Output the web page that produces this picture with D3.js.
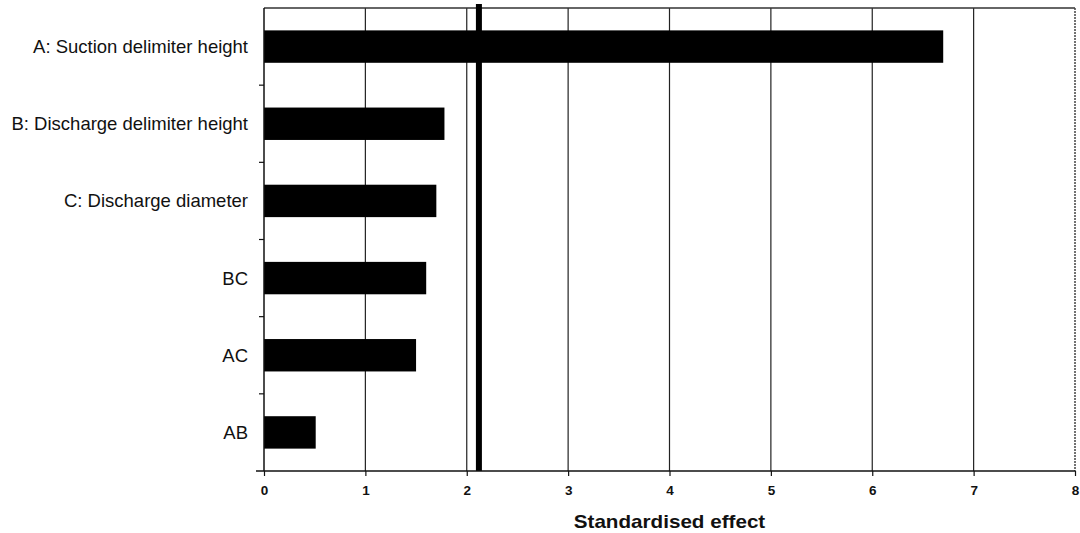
<!DOCTYPE html>
<html>
<head>
<meta charset="utf-8">
<script src="https://cdn.jsdelivr.net/npm/d3@7"></script>
<style>
  body { margin: 0; background: #fff; }
  svg { display: block; }
</style>
</head>
<body>
<svg id="chart" width="1080" height="533"></svg>
<script>
/* dados */
var fatores = ["A: Suction delimiter height", "B: Discharge delimiter height", "C: Discharge diameter", "BC", "AC", "AB"];
var efeitos = [6.70, 1.78, 1.70, 1.60, 1.50, 0.51];
var ticks_x = [0, 1, 2, 3, 4, 5, 6, 7, 8];
var limite = 2.12;

var svg = d3.select("#chart");
var margem = {top: 8, right: 5, bottom: 62, left: 264};
var largura = 1080 - margem.left - margem.right;
var altura = 533 - margem.top - margem.bottom;

var g = svg.append("g").attr("transform", "translate(" + margem.left + "," + margem.top + ")");

var x = d3.scaleLinear().domain([0, 8]).range([0, largura]);
var y = d3.scaleBand().domain(fatores).range([0, altura]).paddingInner(0.58).paddingOuter(0.29);
var yTicks = d3.scaleLinear().domain([0, fatores.length]).range([0, altura]);

/* grade vertical */
g.selectAll("line.grade").data(ticks_x.slice(1, -1)).enter().append("line")
  .attr("class", "grade")
  .attr("x1", function(d){ return x(d); }).attr("x2", function(d){ return x(d); })
  .attr("y1", 0).attr("y2", altura)
  .attr("stroke", "#222").attr("stroke-width", 1.2);

/* borda */
g.append("line").attr("x1", 0).attr("x2", largura).attr("y1", 0).attr("y2", 0)
  .attr("stroke", "#333").attr("stroke-width", 1.5);
g.append("line").attr("x1", largura).attr("x2", largura).attr("y1", 0).attr("y2", altura)
  .attr("stroke", "#444").attr("stroke-width", 1.5).attr("stroke-dasharray", "2,1");

/* barras */
g.selectAll("rect.barra").data(efeitos).enter().append("rect")
  .attr("class", "barra")
  .attr("x", x(0))
  .attr("y", function(d, i){ return y(fatores[i]); })
  .attr("width", function(d){ return x(d) - x(0); })
  .attr("height", y.bandwidth())
  .attr("fill", "#000");

/* linha de referencia */
g.append("line")
  .attr("x1", x(limite)).attr("x2", x(limite))
  .attr("y1", -4).attr("y2", altura)
  .attr("stroke", "#000").attr("stroke-width", 6);

/* eixo x */
var eixoX = d3.axisBottom(x).tickValues(ticks_x).tickSize(5).tickPadding(9).tickFormat(d3.format("d"));
var gx = g.append("g").attr("transform", "translate(0," + altura + ")").call(eixoX);
gx.select(".domain").attr("stroke", "#111").attr("stroke-width", 1.5).attr("d", "M-8,0H" + largura);
gx.selectAll(".tick line").attr("stroke", "#111").attr("stroke-width", 1.2);
gx.selectAll(".tick text")
  .attr("font-family", "Liberation Sans, Arial, sans-serif")
  .attr("font-size", 13.5).attr("font-weight", "bold").attr("fill", "#111");

/* eixo y */
g.append("line").attr("x1", 0).attr("x2", 0).attr("y1", 0).attr("y2", altura)
  .attr("stroke", "#111").attr("stroke-width", 1.5);
g.selectAll("line.ytick").data(d3.range(1, fatores.length)).enter().append("line")
  .attr("class", "ytick")
  .attr("x1", -5).attr("x2", 0)
  .attr("y1", function(d){ return yTicks(d); }).attr("y2", function(d){ return yTicks(d); })
  .attr("stroke", "#111").attr("stroke-width", 1.2);

g.selectAll("text.rotulo").data(fatores).enter().append("text")
  .attr("class", "rotulo")
  .attr("x", -16)
  .attr("y", function(d){ return y(d) + y.bandwidth() / 2; })
  .attr("dy", "0.35em")
  .attr("text-anchor", "end")
  .attr("font-family", "Liberation Sans, Arial, sans-serif")
  .attr("font-size", 18.5).attr("fill", "#111")
  .text(function(d){ return d; });

/* titulo do eixo */
svg.append("text")
  .attr("transform", "translate(" + (margem.left + x(4)) + ",522) scale(1.18,1)")
  .attr("dy", "0.35em")
  .attr("text-anchor", "middle")
  .attr("font-family", "Liberation Sans, Arial, sans-serif")
  .attr("font-size", 17.5).attr("font-weight", "bold").attr("fill", "#111")
  .text("Standardised effect");
</script>
</body>
</html>
